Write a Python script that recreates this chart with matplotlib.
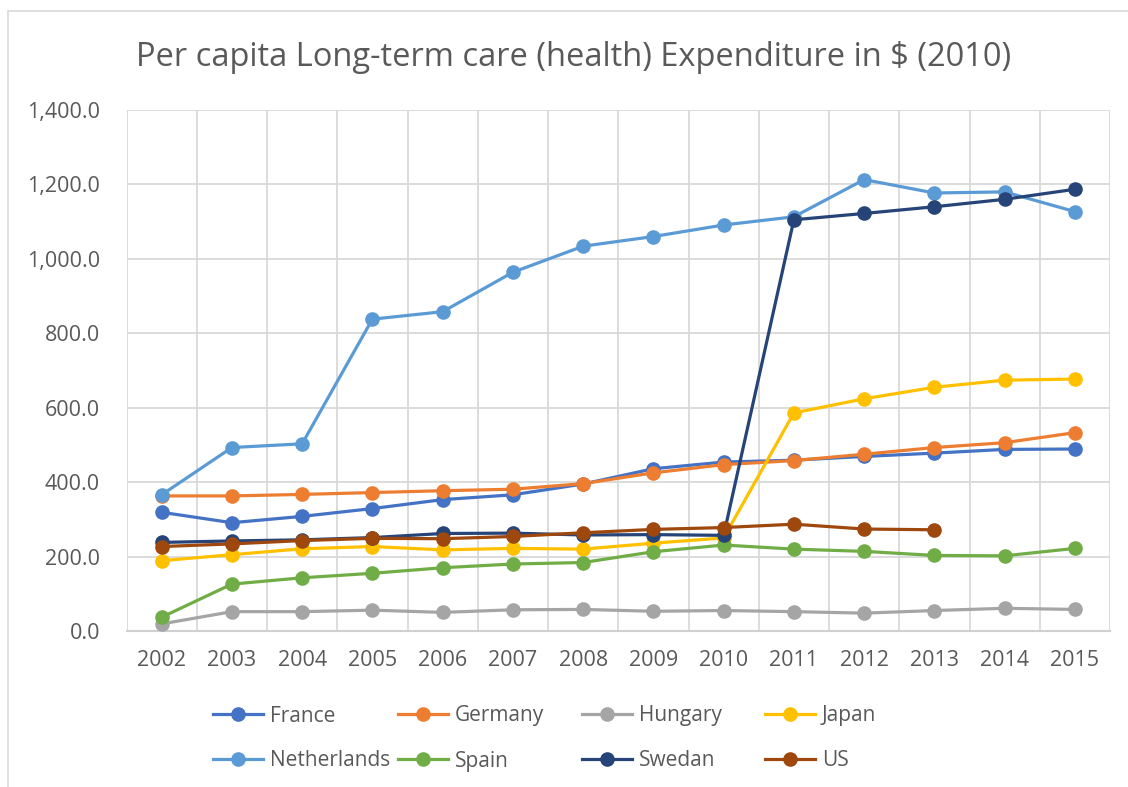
import matplotlib
matplotlib.use("Agg")
import matplotlib.pyplot as plt
from matplotlib.lines import Line2D
from matplotlib.patches import Rectangle
from matplotlib.ticker import FuncFormatter, MultipleLocator

plt.rcParams['font.family'] = ['Open Sans', 'DejaVu Sans']

years = [2002, 2003, 2004, 2005, 2006, 2007, 2008, 2009, 2010, 2011, 2012, 2013, 2014, 2015]

france      = [319, 291, 308, 329, 353, 366, 395, 436, 454, 459, 469, 478, 488, 489]
germany     = [363, 363, 367, 372, 377, 381, 396, 425, 447, 458, 475, 493, 506, 533]
hungary     = [19, 52, 52, 56, 50, 57, 58, 53, 55, 52, 48, 55, 61, 58]
japan       = [189, 205, 221, 227, 218, 222, 220, 236, 250, 586, 624, 655, 674, 677]
netherlands = [366, 493, 503, 838, 858, 964, 1034, 1060, 1091, 1113, 1213, 1177, 1180, 1127]
spain       = [37, 126, 143, 155, 170, 180, 184, 213, 231, 220, 214, 203, 202, 222]
swedan      = [238, 242, 245, 251, 262, 263, 258, 259, 257, 1105, 1122, 1140, 1160, 1187]
us          = [227, 234, 243, 249, 248, 254, 264, 273, 278, 287, 274, 272]

names = ['France', 'Germany', 'Hungary', 'Japan', 'Netherlands', 'Spain', 'Swedan', 'US']
series = [france, germany, hungary, japan, netherlands, spain, swedan, us]
colors = ['#4472C4', '#ED7D31', '#A5A5A5', '#FFC000', '#5B9BD5', '#70AD47', '#264478', '#9E480E']

W, H = 1128, 787
fig = plt.figure(figsize=(W / 100, H / 100), dpi=100)

def fx(x):
    return x / W

def fy(y):
    return 1 - y / H

# chart border (cropped reference shows left & top edges)
fig.add_artist(Rectangle((fx(8), fy(H + 20)), fx(W + 40), fy(11) - fy(H + 20),
                         transform=fig.transFigure, fill=False,
                         edgecolor='#D9D9D9', linewidth=1.2))

left, right, top, bottom = 126.5, 1110, 110, 631
ax = fig.add_axes([fx(left), fy(bottom), fx(right - left), fy(top) - fy(bottom)])

xs = list(range(len(years)))
for name, vals, c in zip(names, series, colors):
    ax.plot(xs[:len(vals)], vals, color=c, linewidth=2.3, marker='o',
            markersize=9.5, label=name, solid_capstyle='round', zorder=3)

ax.set_xlim(-0.5, len(years) - 0.5)
ax.set_ylim(0, 1400)
ax.yaxis.set_major_locator(MultipleLocator(200))
ax.yaxis.set_major_formatter(FuncFormatter(lambda v, p: f"{v:,.1f}"))
ax.set_xticks(xs)
ax.set_xticklabels([str(y) for y in years])
ax.set_xticks([i - 0.5 for i in range(len(years) + 1)], minor=True)

ax.grid(True, which='major', axis='y', color='#D9D9D9', linewidth=1.3, zorder=0)
ax.grid(True, which='minor', axis='x', color='#D9D9D9', linewidth=1.3, zorder=0)
for s in ['top', 'right', 'left']:
    ax.spines[s].set_visible(False)
ax.spines['bottom'].set_color('#D0D0D0')
ax.spines['bottom'].set_linewidth(1.5)
ax.tick_params(axis='both', which='both', length=0, colors='#595959', labelsize=15.5)
ax.tick_params(axis='x', pad=14)
ax.tick_params(axis='y', pad=19)

fig.text(fx(574), fy(57), 'Per capita Long-term care (health) Expenditure in $ (2010)',
         ha='center', va='center', fontsize=23.5, color='#595959')

# legend (Excel-style equal columns)
col_x = [213, 398, 582, 765]
row_y = [714, 759]
for i, (name, c) in enumerate(zip(names, colors)):
    x0 = col_x[i % 4]
    y0 = row_y[i // 4]
    fig.add_artist(Line2D([fx(x0), fx(x0 + 50)], [fy(y0), fy(y0)],
                          transform=fig.transFigure, color=c, linewidth=2.3))
    fig.add_artist(Line2D([fx(x0 + 25)], [fy(y0)], transform=fig.transFigure,
                          color=c, marker='o', markersize=9.5, linestyle='none'))
    fig.text(fx(x0 + 57), fy(y0 + 2), name, ha='left', va='center',
             fontsize=15, color='#595959')

fig.savefig('out.png', dpi=100)
